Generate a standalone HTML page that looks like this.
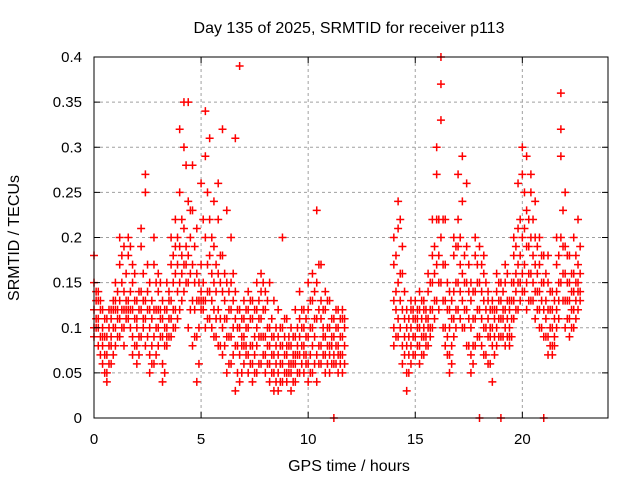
<!DOCTYPE html>
<html><head><meta charset="utf-8"><style>
body{margin:0;background:#fff}
svg{display:block;font-family:"Liberation Sans",sans-serif}
</style></head><body>
<svg id="chart" width="640" height="480">
<text x="349" y="33" text-anchor="middle" font-size="16">Day 135 of 2025, SRMTID for receiver p113</text>
<text x="349" y="471" text-anchor="middle" font-size="16">GPS time / hours</text>
<text transform="translate(19,238) rotate(-90)" text-anchor="middle" font-size="16">SRMTID / TECUs</text>
<g id="grid"></g><g id="pts"></g><g id="axes"></g>
</svg>
<script>
const xTicks=[0,5,10,15,20];
const yTicks=[0,0.05,0.1,0.15,0.2,0.25,0.3,0.35,0.4];
const yTickLabels=["0","0.05","0.1","0.15","0.2","0.25","0.3","0.35","0.4"];
const times=[0,0.2,0.4,0.6,0.8,1,1.2,1.4,1.6,1.8,2,2.2,2.4,2.6,2.8,3,3.2,3.4,3.6,3.8,4,4.2,4.4,4.6,4.8,5,5.2,5.4,5.6,5.8,6,6.2,6.4,6.6,6.8,7,7.2,7.4,7.6,7.8,8,8.2,8.4,8.6,8.8,9,9.2,9.4,9.6,9.8,10,10.2,10.4,10.6,10.8,11,11.2,11.4,11.6,
14,14.2,14.4,14.6,14.8,15,15.2,15.4,15.6,15.8,16,16.2,16.4,16.6,16.8,17,17.2,17.4,17.6,17.8,18,18.2,18.4,18.6,18.8,19,19.2,19.4,19.6,19.8,20,20.2,20.4,20.6,20.8,21,21.2,21.4,21.6,21.8,22,22.2,22.4,22.6];
const values=[
[0.09,0.12,0.15,0.18,0.10],[0.08,0.11,0.13,0.14,0.10],[0.06,0.08,0.12,0.10,0.09],[0.04,0.05,0.07,0.09,0.11],[0.06,0.09,0.11,0.12,0.08],
[0.08,0.10,0.13,0.15,0.12],[0.09,0.11,0.13,0.17,0.20],[0.10,0.12,0.14,0.19,0.08],[0.11,0.13,0.18,0.20,0.12],[0.09,0.12,0.15,0.17,0.07],
[0.06,0.08,0.11,0.13,0.10],[0.09,0.12,0.14,0.19,0.21],[0.08,0.11,0.13,0.25,0.27],[0.05,0.07,0.10,0.12,0.15],[0.06,0.09,0.12,0.17,0.20],
[0.08,0.10,0.14,0.16,0.12],[0.04,0.06,0.09,0.11,0.13],[0.08,0.10,0.12,0.15,0.09],[0.09,0.11,0.13,0.17,0.20],[0.10,0.12,0.16,0.19,0.22],
[0.12,0.15,0.19,0.25,0.32],[0.14,0.17,0.21,0.30,0.35],[0.10,0.15,0.18,0.24,0.35],[0.08,0.13,0.17,0.23,0.28],[0.04,0.09,0.13,0.16,0.21],
[0.12,0.13,0.14,0.17,0.26],[0.10,0.13,0.20,0.29,0.34],[0.11,0.14,0.18,0.22,0.31],[0.09,0.12,0.15,0.19,0.24],[0.08,0.12,0.16,0.22,0.26],
[0.07,0.10,0.14,0.18,0.32],[0.05,0.09,0.11,0.15,0.23],[0.06,0.09,0.12,0.15,0.20],[0.03,0.08,0.11,0.14,0.31],[0.04,0.07,0.10,0.12,0.39],
[0.06,0.08,0.09,0.11,0.13],[0.05,0.07,0.10,0.12,0.14],[0.04,0.06,0.08,0.11,0.13],[0.05,0.08,0.10,0.12,0.15],[0.06,0.09,0.11,0.14,0.16],
[0.05,0.07,0.09,0.12,0.14],[0.04,0.06,0.08,0.10,0.15],[0.03,0.05,0.07,0.09,0.13],[0.03,0.05,0.07,0.09,0.12],[0.04,0.06,0.08,0.10,0.20],
[0.04,0.05,0.07,0.08,0.11],[0.03,0.05,0.06,0.08,0.10],[0.04,0.06,0.07,0.09,0.12],[0.05,0.07,0.09,0.11,0.14],[0.05,0.07,0.08,0.10,0.12],
[0.04,0.06,0.09,0.12,0.15],[0.05,0.08,0.10,0.13,0.16],[0.04,0.07,0.11,0.15,0.23],[0.06,0.08,0.11,0.13,0.17],[0.05,0.07,0.09,0.12,0.14],
[0.05,0.07,0.08,0.10,0.13],[0.06,0.07,0.09,0.11,0.0],[0.05,0.07,0.08,0.10,0.12],[0.05,0.07,0.09,0.11,0.12],
[0.08,0.10,0.13,0.17,0.20],[0.09,0.11,0.15,0.21,0.24],[0.06,0.08,0.12,0.16,0.19],[0.03,0.05,0.08,0.10,0.12],[0.06,0.08,0.10,0.12,0.13],
[0.07,0.09,0.11,0.13,0.09],[0.06,0.08,0.10,0.12,0.14],[0.07,0.09,0.10,0.12,0.13],[0.08,0.10,0.11,0.14,0.16],[0.10,0.12,0.15,0.18,0.22],
[0.13,0.17,0.22,0.27,0.30],[0.15,0.20,0.33,0.37,0.40],[0.08,0.10,0.13,0.17,0.22],[0.05,0.07,0.10,0.12,0.14],[0.09,0.11,0.14,0.18,0.20],
[0.12,0.15,0.19,0.22,0.27],[0.10,0.13,0.16,0.24,0.29],[0.08,0.12,0.15,0.19,0.26],[0.05,0.07,0.10,0.13,0.15],[0.08,0.11,0.14,0.18,0.20],
[0.09,0.12,0.15,0.19,0.0],[0.07,0.10,0.13,0.16,0.18],[0.06,0.09,0.11,0.13,0.14],[0.04,0.08,0.10,0.12,0.13],[0.08,0.10,0.12,0.14,0.16],
[0.09,0.11,0.13,0.15,0.0],[0.08,0.10,0.12,0.15,0.17],[0.08,0.10,0.12,0.13,0.09],[0.11,0.13,0.15,0.18,0.20],[0.12,0.15,0.17,0.21,0.26],
[0.14,0.16,0.20,0.27,0.30],[0.12,0.15,0.19,0.23,0.29],[0.13,0.16,0.20,0.25,0.27],[0.11,0.14,0.17,0.20,0.24],[0.10,0.12,0.14,0.17,0.20],
[0.09,0.12,0.15,0.18,0.0],[0.07,0.09,0.12,0.15,0.18],[0.07,0.08,0.10,0.12,0.14],[0.10,0.12,0.14,0.17,0.20],[0.15,0.20,0.29,0.32,0.36],
[0.10,0.13,0.16,0.19,0.25],[0.09,0.11,0.13,0.15,0.18],[0.10,0.12,0.14,0.16,0.20],[0.12,0.14,0.15,0.17,0.22]];
const times2=[0.1,0.3,0.5,0.7,0.9,1.1,1.3,1.5,1.7,1.9,2.1,2.3,2.5,2.7,2.9,3.1,3.3,3.5,3.7,3.9,4.1,4.3,4.5,4.7,4.9,5.1,5.3,5.5,5.7,5.9,6.1,6.3,6.5,6.7,6.9,7.1,7.3,7.5,7.7,7.9,8.1,8.3,8.5,8.7,8.9,9.1,9.3,9.5,9.7,9.9,10.1,10.3,10.5,10.7,10.9,11.1,11.3,11.5,11.7,
14.1,14.3,14.5,14.7,14.9,15.1,15.3,15.5,15.7,15.9,16.1,16.3,16.5,16.7,16.9,17.1,17.3,17.5,17.7,17.9,18.1,18.3,18.5,18.7,18.9,19.1,19.3,19.5,19.7,19.9,20.1,20.3,20.5,20.7,20.9,21.1,21.3,21.5,21.7,21.9,22.1,22.3,22.5,22.7];
const values2=[
[0.10,0.13,0.11,0.14],[0.09,0.12,0.07,0.13],[0.07,0.09,0.11,0.05],[0.06,0.08,0.10,0.12],[0.07,0.10,0.12,0.13],
[0.09,0.11,0.12,0.14],[0.10,0.12,0.15,0.18],[0.11,0.13,0.12,0.16],[0.10,0.12,0.14,0.19],[0.08,0.11,0.13,0.16],
[0.07,0.09,0.12,0.14],[0.10,0.11,0.13,0.16],[0.09,0.12,0.14,0.17],[0.06,0.08,0.11,0.13],[0.07,0.10,0.12,0.15],
[0.09,0.11,0.12,0.15],[0.05,0.08,0.10,0.12],[0.09,0.11,0.13,0.14],[0.10,0.12,0.15,0.18],[0.11,0.14,0.17,0.20],
[0.13,0.16,0.18,0.22],[0.15,0.17,0.19,0.28],[0.12,0.16,0.20,0.23],[0.09,0.12,0.15,0.19],[0.06,0.10,0.13,0.15],
[0.12,0.13,0.15,0.22],[0.11,0.14,0.17,0.25],[0.10,0.13,0.16,0.20],[0.09,0.11,0.14,0.17],[0.08,0.11,0.15,0.18],
[0.08,0.11,0.13,0.16],[0.06,0.09,0.12,0.14],[0.07,0.10,0.13,0.16],[0.05,0.08,0.10,0.12],[0.05,0.08,0.09,0.11],
[0.07,0.08,0.10,0.12],[0.06,0.08,0.11,0.13],[0.05,0.07,0.09,0.12],[0.06,0.09,0.11,0.13],[0.07,0.09,0.12,0.15],
[0.06,0.08,0.10,0.13],[0.05,0.07,0.09,0.11],[0.04,0.06,0.08,0.10],[0.04,0.06,0.08,0.10],[0.05,0.07,0.09,0.11],
[0.05,0.06,0.08,0.09],[0.04,0.06,0.07,0.09],[0.05,0.07,0.08,0.10],[0.06,0.08,0.10,0.12],[0.06,0.07,0.09,0.11],
[0.05,0.07,0.10,0.13],[0.06,0.09,0.11,0.14],[0.06,0.08,0.12,0.17],[0.07,0.09,0.10,0.12],[0.06,0.08,0.10,0.13],
[0.06,0.08,0.09,0.11],[0.06,0.08,0.10,0.12],[0.06,0.07,0.09,0.11],[0.06,0.08,0.10,0.11],
[0.09,0.12,0.14,0.18],[0.10,0.13,0.16,0.22],[0.07,0.09,0.11,0.14],[0.05,0.07,0.09,0.11],[0.07,0.09,0.11,0.12],
[0.08,0.10,0.11,0.12],[0.07,0.09,0.11,0.13],[0.08,0.09,0.11,0.12],[0.09,0.10,0.12,0.15],[0.11,0.13,0.16,0.19],
[0.12,0.15,0.18,0.22],[0.10,0.13,0.17,0.22],[0.07,0.09,0.12,0.15],[0.06,0.08,0.11,0.13],[0.10,0.12,0.15,0.19],
[0.11,0.14,0.17,0.20],[0.10,0.12,0.15,0.18],[0.08,0.11,0.14,0.17],[0.06,0.08,0.11,0.14],[0.09,0.12,0.15,0.17],
[0.08,0.11,0.14,0.17],[0.07,0.10,0.12,0.15],[0.06,0.09,0.10,0.12],[0.07,0.09,0.11,0.12],[0.09,0.11,0.13,0.15],
[0.09,0.11,0.12,0.14],[0.09,0.11,0.13,0.16],[0.09,0.11,0.13,0.15],[0.12,0.14,0.16,0.19],[0.13,0.15,0.18,0.22],
[0.14,0.17,0.21,0.25],[0.13,0.16,0.19,0.22],[0.13,0.15,0.18,0.22],[0.12,0.14,0.16,0.19],[0.10,0.13,0.15,0.18],
[0.09,0.11,0.13,0.16],[0.08,0.10,0.12,0.14],[0.08,0.09,0.11,0.13],[0.11,0.13,0.15,0.18],[0.13,0.16,0.19,0.23],
[0.11,0.13,0.15,0.18],[0.10,0.12,0.14,0.16],[0.11,0.13,0.15,0.18],[0.13,0.14,0.16,0.19]];
const L=94,R=608,T=57,B=418,XMAX=24,YMAX=0.4;
const xs=v=>L+(R-L)*v/XMAX, ys=v=>B-(B-T)*v/YMAX;
const NS="http://www.w3.org/2000/svg";
function mk(tag,attrs,parent){const e=document.createElementNS(NS,tag);for(const k in attrs)e.setAttribute(k,attrs[k]);parent.appendChild(e);return e;}
const grid=document.getElementById('grid'),axes=document.getElementById('axes'),pts=document.getElementById('pts');
xTicks.forEach(t=>{const x=xs(t);
 if(t>0){const g=mk('line',{x1:x,x2:x,y1:T,y2:B,stroke:'#a0a0a0','stroke-dasharray':'3,3'},grid);
 
 }
 mk('line',{x1:x,x2:x,y1:B,y2:B-6,stroke:'#000'},axes);mk('line',{x1:x,x2:x,y1:T,y2:T+6,stroke:'#000'},axes);
 const tx=mk('text',{x:x,y:B+26,'text-anchor':'middle','font-size':'15'},axes);tx.textContent=t;
 
 
});
yTicks.forEach((t,i)=>{const y=ys(t);
 if(t>0&&t<YMAX){const g=mk('line',{x1:L,x2:R,y1:y,y2:y,stroke:'#a0a0a0','stroke-dasharray':'3,3'},grid);
 
 }
 mk('line',{x1:L,x2:L+6,y1:y,y2:y,stroke:'#000'},axes);mk('line',{x1:R,x2:R-6,y1:y,y2:y,stroke:'#000'},axes);
 const tx=mk('text',{x:L-12,y:y+5,'text-anchor':'end','font-size':'15'},axes);tx.textContent=yTickLabels[i];
 
 
});
const fr=mk('rect',{x:L,y:T,width:R-L,height:B-T,fill:'none',stroke:'#000'},axes);


let d='';
function addPts(tt,vv){tt.forEach((t,i)=>{vv[i].forEach(v=>{const x=xs(t),y=ys(v);d+=`M${x-4},${y}h8M${x},${y-4}v8`;});});}
addPts(times,values);
addPts(times2,values2);
const p=mk('path',{d:d,stroke:'#ff0000','stroke-width':'1.5',fill:'none'},pts);


</script>
</body></html>
